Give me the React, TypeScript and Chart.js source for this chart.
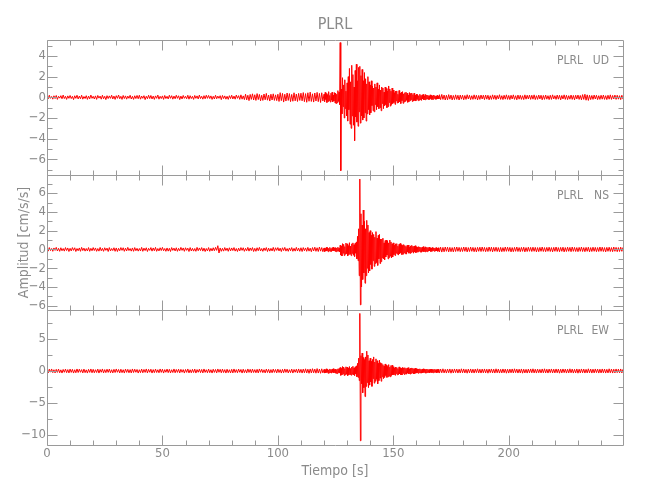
import React, { useEffect, useRef } from 'react';
import { Chart, registerables } from 'chart.js';

Chart.register(...registerables);

const TITLE = 'PLRL';
const STATION = 'PLRL';
const Y_TITLE = 'Amplitud [cm/s/s]';
const X_TITLE = 'Tiempo [s]';
const COMPONENTS = ['UD', 'NS', 'EW'];
const PANEL_IDS = ['yUD', 'yNS', 'yEW'];

// Sampling of the three pieces of each trace (start time, interval, seconds)
const PRE_START = 0;
const PRE_DT = 0.5;
const EVENT_START = 120;
const EVENT_DT = 0.25;
const POST_START = 170;
const POST_DT = 0.5;

const X_MIN = 0;
const X_MAX = 249.5;
const X_TICKS = [0, 50, 100, 150, 200];
const X_MINOR = 10;
const Y_MIN = [-7.52, -6.45, -11.56];
const Y_MAX = [5.55, 7.93, 9.53];
const Y_TICKS_UD = [-6, -4, -2, 0, 2, 4];
const Y_TICKS_NS = [-6, -4, -2, 0, 2, 4, 6];
const Y_TICKS_EW = [-10, -5, 0, 5];
const Y_MAJOR = [2, 2, 5];
const Y_MINOR = [1, 1, 2.5];

// ---------- UD ----------
const UD_PRE = [
  0.12,-0.15,0.2,-0.1,0.08,-0.18,0.15,-0.12,0.18,-0.2,0.1,-0.08,0.16,-0.14,0.22,-0.12,0.1,-0.2,0.14,-0.1,
  0.18,-0.12,0.1,-0.22,0.15,-0.1,0.2,-0.16,0.12,-0.14,0.2,-0.18,0.08,-0.12,0.16,-0.2,0.12,-0.15,0.22,-0.1,
  0.1,-0.16,0.14,-0.2,0.18,-0.08,0.12,-0.18,0.2,-0.14,0.1,-0.22,0.16,-0.12,0.14,-0.1,0.2,-0.16,0.12,-0.2,
  0.16,-0.1,0.22,-0.14,0.1,-0.2,0.18,-0.12,0.14,-0.18,0.12,-0.1,0.2,-0.16,0.1,-0.2,0.15,-0.12,0.18,-0.14,
  0.2,-0.18,0.12,-0.1,0.16,-0.22,0.1,-0.14,0.2,-0.12,0.18,-0.16,0.12,-0.2,0.14,-0.1,0.22,-0.18,0.1,-0.12,
  0.14,-0.2,0.18,-0.12,0.1,-0.16,0.2,-0.1,0.16,-0.18,0.12,-0.14,0.2,-0.1,0.15,-0.22,0.12,-0.16,0.18,-0.1,
  0.1,-0.14,0.2,-0.18,0.16,-0.12,0.1,-0.2,0.18,-0.1,0.14,-0.16,0.22,-0.12,0.1,-0.18,0.16,-0.14,0.2,-0.1,
  0.18,-0.12,0.14,-0.2,0.1,-0.16,0.2,-0.14,0.12,-0.1,0.16,-0.22,0.18,-0.12,0.14,-0.18,0.1,-0.2,0.16,-0.12,
  0.2,-0.16,0.12,-0.18,0.22,-0.1,0.16,-0.2,0.24,-0.18,0.14,-0.22,0.3,-0.25,0.2,-0.32,0.28,-0.2,0.34,-0.26,
  0.25,-0.3,0.36,-0.22,0.28,-0.34,0.2,-0.3,0.32,-0.24,0.38,-0.28,0.22,-0.36,0.3,-0.26,0.34,-0.3,0.24,-0.32,
  0.3,-0.4,0.45,-0.32,0.38,-0.46,0.3,-0.36,0.42,-0.3,0.36,-0.42,0.28,-0.38,0.44,-0.34,0.32,-0.4,0.38,-0.3,
  0.4,-0.34,0.46,-0.42,0.36,-0.48,0.44,-0.38,0.5,-0.4,0.34,-0.46,0.42,-0.36,0.48,-0.42,0.38,-0.5,0.44,-0.36,
];
const UD_EVENT = [
  0.3,-0.42,0.48,-0.2,0.36,-0.5,0.25,-0.4,0.55,-0.32,0.18,-0.46,0.4,-0.28,0.5,-0.44,0.22,-0.36,0.46,-0.55,
  0.42,-0.6,0.3,-0.52,0.65,-0.4,0.5,-0.7,5.3,-7.1,0.8,-1.6,1.9,-0.9,1.2,-2.0,1.7,-1.1,0.6,-1.8,
  1.4,-2.3,2.0,-1.2,2.8,-2.6,1.5,-3.0,3.1,-1.8,2.2,-2.7,1.0,-4.2,2.6,-1.9,3.2,-2.4,1.6,-2.8,
  2.9,-1.4,3.0,-2.5,2.1,-1.8,2.7,-2.2,1.6,-2.0,2.4,-1.5,1.8,-2.3,1.3,-1.6,2.0,-1.2,1.5,-1.7,
  1.2,-1.5,1.6,-0.8,1.1,-1.3,0.9,-1.4,1.3,-0.7,1.0,-1.2,1.4,-0.9,0.8,-1.1,1.2,-1.0,0.7,-1.3,
  1.0,-0.6,0.9,-1.1,0.5,-0.8,1.0,-0.7,0.85,-1.0,0.6,-0.9,1.1,-0.5,0.8,-0.85,0.6,-0.7,0.9,-0.6,
  0.7,-0.5,0.45,-0.68,0.6,-0.35,0.62,-0.55,0.3,-0.52,0.66,-0.42,0.4,-0.6,0.5,-0.32,0.55,-0.58,0.34,-0.45,
  0.45,-0.38,0.5,-0.28,0.4,-0.48,0.22,-0.42,0.46,-0.32,0.38,-0.22,0.42,-0.4,0.26,-0.36,0.4,-0.3,0.2,-0.36,
  0.3,-0.2,0.26,-0.32,0.16,-0.28,0.3,-0.22,0.18,-0.3,0.24,-0.16,0.28,-0.26,0.14,-0.24,0.28,-0.18,0.22,-0.16,
  0.2,-0.22,0.14,-0.2,0.24,-0.12,0.18,-0.22,0.14,-0.2,0.22,-0.1,0.16,-0.2,0.12,-0.18,0.2,-0.14,0.1,-0.16,
];
const UD_POST = [
  0.25,-0.22,0.28,-0.2,0.22,-0.26,0.2,-0.24,0.26,-0.18,0.22,-0.25,0.18,-0.22,0.24,-0.2,0.2,-0.26,0.22,-0.18,
  0.2,-0.24,0.18,-0.2,0.25,-0.16,0.2,-0.22,0.16,-0.2,0.24,-0.18,0.2,-0.25,0.18,-0.2,0.22,-0.16,0.2,-0.22,
  0.22,-0.18,0.2,-0.24,0.16,-0.2,0.24,-0.18,0.2,-0.22,0.18,-0.16,0.25,-0.2,0.16,-0.22,0.2,-0.18,0.24,-0.2,
  0.18,-0.22,0.2,-0.16,0.24,-0.2,0.16,-0.24,0.22,-0.18,0.2,-0.2,0.16,-0.22,0.24,-0.18,0.2,-0.16,0.22,-0.2,
  0.2,-0.18,0.24,-0.22,0.16,-0.2,0.22,-0.16,0.2,-0.24,0.18,-0.2,0.22,-0.18,0.16,-0.22,0.2,-0.2,0.24,-0.16,
  0.16,-0.2,0.22,-0.18,0.2,-0.24,0.18,-0.16,0.24,-0.2,0.2,-0.22,0.16,-0.18,0.22,-0.2,0.18,-0.24,0.2,-0.16,
  0.22,-0.2,0.18,-0.24,0.26,-0.2,0.3,-0.28,0.24,-0.3,0.2,-0.22,0.18,-0.2,0.22,-0.16,0.2,-0.22,0.16,-0.2,
  0.2,-0.18,0.22,-0.2,0.16,-0.22,0.2,-0.18,0.24,-0.2,0.18,-0.16,0.22,-0.2,0.2,-0.18,0.16,-0.22,0.2,-0.18,
];

// ---------- NS ----------
const NS_PRE = [
  0.14,-0.18,0.2,-0.12,0.1,-0.2,0.16,-0.1,0.22,-0.16,0.12,-0.2,0.18,-0.14,0.1,-0.18,0.2,-0.12,0.16,-0.22,
  0.12,-0.16,0.2,-0.1,0.18,-0.22,0.1,-0.14,0.16,-0.2,0.22,-0.12,0.14,-0.18,0.1,-0.16,0.2,-0.2,0.12,-0.14,
  0.2,-0.12,0.16,-0.2,0.1,-0.18,0.22,-0.14,0.12,-0.2,0.18,-0.1,0.14,-0.22,0.2,-0.16,0.1,-0.12,0.18,-0.2,
  0.16,-0.22,0.12,-0.14,0.2,-0.1,0.18,-0.2,0.14,-0.16,0.22,-0.12,0.1,-0.18,0.16,-0.2,0.2,-0.14,0.12,-0.18,
  0.1,-0.16,0.22,-0.2,0.14,-0.12,0.18,-0.22,0.12,-0.1,0.2,-0.18,0.16,-0.14,0.22,-0.2,0.1,-0.16,0.18,-0.12,
  0.22,-0.14,0.1,-0.2,0.16,-0.18,0.12,-0.22,0.2,-0.1,0.14,-0.16,0.18,-0.2,0.12,-0.14,0.22,-0.1,0.16,-0.2,
  0.18,-0.1,0.14,-0.22,0.2,-0.16,0.12,-0.18,0.1,-0.2,0.22,-0.14,0.16,-0.12,0.2,-0.18,0.14,-0.22,0.1,-0.16,
  0.2,-0.2,0.12,-0.16,0.18,-0.14,0.22,-0.1,0.4,-0.38,0.16,-0.2,0.12,-0.18,0.2,-0.12,0.14,-0.2,0.18,-0.16,
  0.16,-0.12,0.2,-0.18,0.1,-0.22,0.14,-0.16,0.2,-0.1,0.18,-0.2,0.12,-0.14,0.22,-0.18,0.16,-0.12,0.2,-0.22,
  0.12,-0.2,0.18,-0.14,0.22,-0.16,0.1,-0.2,0.16,-0.12,0.2,-0.22,0.14,-0.18,0.12,-0.16,0.22,-0.2,0.18,-0.1,
  0.2,-0.16,0.14,-0.22,0.18,-0.12,0.22,-0.18,0.1,-0.2,0.16,-0.14,0.2,-0.2,0.12,-0.18,0.22,-0.16,0.14,-0.2,
  0.18,-0.22,0.2,-0.14,0.16,-0.2,0.22,-0.18,0.14,-0.24,0.2,-0.16,0.24,-0.2,0.18,-0.22,0.26,-0.18,0.2,-0.24,
];
const NS_EVENT = [
  0.16,-0.22,0.1,-0.18,0.22,-0.14,0.2,-0.24,0.12,-0.16,0.22,-0.2,0.1,-0.22,0.18,-0.12,0.24,-0.16,0.14,-0.2,
  0.2,-0.24,0.16,-0.18,0.24,-0.2,0.14,-0.26,0.45,-0.6,0.35,-0.7,0.62,-0.4,0.55,-0.65,0.3,-0.5,0.68,-0.45,
  0.6,-0.7,0.4,-0.55,0.72,-0.5,0.35,-0.66,0.6,-0.42,0.7,-0.62,0.5,-0.75,0.66,-0.4,0.8,-1.0,1.4,-1.2,
  2.2,-2.8,7.5,-5.9,3.8,-4.0,2.6,-3.2,4.2,-2.5,3.0,-3.6,2.2,-2.8,3.1,-2.0,2.6,-2.5,1.8,-2.3,
  2.0,-1.6,1.5,-2.1,1.8,-1.2,1.6,-1.8,1.3,-1.5,1.9,-1.4,1.2,-1.7,1.5,-1.0,1.6,-1.5,1.1,-1.3,
  1.1,-0.9,1.2,-1.0,0.7,-1.1,0.95,-0.8,1.0,-0.6,0.9,-1.0,0.7,-0.85,1.0,-0.7,0.8,-0.9,0.6,-0.8,
  0.7,-0.55,0.45,-0.65,0.6,-0.4,0.62,-0.5,0.35,-0.6,0.55,-0.45,0.64,-0.36,0.5,-0.55,0.42,-0.5,0.52,-0.36,
  0.42,-0.46,0.32,-0.5,0.44,-0.28,0.46,-0.4,0.24,-0.42,0.38,-0.34,0.44,-0.24,0.32,-0.4,0.36,-0.28,0.4,-0.34,
  0.28,-0.3,0.22,-0.26,0.3,-0.18,0.26,-0.28,0.2,-0.3,0.24,-0.2,0.3,-0.24,0.18,-0.26,0.28,-0.2,0.22,-0.24,
  0.2,-0.18,0.24,-0.14,0.18,-0.22,0.16,-0.2,0.22,-0.12,0.18,-0.2,0.14,-0.18,0.2,-0.16,0.12,-0.2,0.18,-0.14,
];
const NS_POST = [
  -0.26,0.24,-0.28,0.22,-0.25,0.26,-0.2,0.24,-0.26,0.22,-0.24,0.2,-0.26,0.24,-0.22,0.26,-0.2,0.22,-0.24,0.2,
  -0.22,0.26,-0.2,0.24,-0.26,0.2,-0.22,0.25,-0.2,0.22,-0.24,0.2,-0.26,0.22,-0.2,0.24,-0.22,0.26,-0.2,0.22,
  -0.24,0.2,-0.22,0.26,-0.2,0.24,-0.26,0.22,-0.2,0.24,-0.22,0.2,-0.25,0.22,-0.24,0.2,-0.22,0.26,-0.2,0.24,
  -0.2,0.22,-0.26,0.2,-0.24,0.22,-0.2,0.26,-0.22,0.2,-0.24,0.22,-0.2,0.24,-0.26,0.2,-0.22,0.24,-0.2,0.22,
  -0.22,0.24,-0.2,0.22,-0.26,0.2,-0.24,0.22,-0.2,0.26,-0.22,0.2,-0.24,0.22,-0.2,0.24,-0.22,0.2,-0.26,0.22,
  -0.2,0.26,-0.22,0.2,-0.24,0.22,-0.2,0.24,-0.26,0.2,-0.22,0.24,-0.2,0.22,-0.24,0.26,-0.2,0.22,-0.22,0.2,
  -0.24,0.22,-0.2,0.26,-0.22,0.2,-0.24,0.22,-0.2,0.24,-0.26,0.2,-0.22,0.24,-0.2,0.22,-0.24,0.2,-0.22,0.26,
  -0.2,0.24,-0.22,0.2,-0.26,0.22,-0.2,0.24,-0.22,0.2,-0.24,0.26,-0.2,0.22,-0.24,0.2,-0.22,0.24,-0.2,0.22,
];

// ---------- EW ----------
const EW_PRE = [
  0.22,-0.3,0.28,-0.18,0.32,-0.26,0.2,-0.3,0.26,-0.22,0.3,-0.28,0.18,-0.32,0.24,-0.2,0.3,-0.26,0.22,-0.3,
  0.3,-0.22,0.26,-0.32,0.2,-0.28,0.32,-0.24,0.28,-0.2,0.22,-0.3,0.3,-0.26,0.18,-0.32,0.26,-0.22,0.32,-0.28,
  0.26,-0.28,0.2,-0.24,0.3,-0.32,0.24,-0.2,0.32,-0.3,0.22,-0.26,0.28,-0.22,0.3,-0.28,0.2,-0.3,0.26,-0.24,
  0.32,-0.2,0.24,-0.3,0.28,-0.26,0.2,-0.32,0.3,-0.22,0.26,-0.28,0.22,-0.3,0.32,-0.24,0.28,-0.2,0.24,-0.32,
  0.2,-0.26,0.3,-0.28,0.24,-0.22,0.32,-0.3,0.26,-0.2,0.28,-0.32,0.22,-0.26,0.3,-0.24,0.2,-0.28,0.32,-0.22,
  0.28,-0.32,0.22,-0.2,0.3,-0.26,0.26,-0.3,0.2,-0.24,0.32,-0.28,0.24,-0.22,0.28,-0.3,0.26,-0.2,0.22,-0.32,
  0.24,-0.22,0.32,-0.3,0.2,-0.28,0.26,-0.24,0.3,-0.32,0.22,-0.2,0.28,-0.26,0.24,-0.3,0.32,-0.22,0.2,-0.28,
  0.3,-0.26,0.2,-0.32,0.28,-0.22,0.24,-0.3,0.32,-0.2,0.26,-0.28,0.3,-0.24,0.22,-0.32,0.28,-0.26,0.2,-0.3,
  0.26,-0.3,0.32,-0.24,0.22,-0.28,0.3,-0.2,0.24,-0.32,0.28,-0.26,0.2,-0.3,0.32,-0.22,0.26,-0.28,0.3,-0.24,
  0.22,-0.28,0.26,-0.3,0.32,-0.2,0.28,-0.26,0.2,-0.3,0.3,-0.24,0.26,-0.32,0.22,-0.28,0.3,-0.22,0.24,-0.3,
  0.3,-0.24,0.22,-0.32,0.26,-0.28,0.32,-0.22,0.28,-0.3,0.2,-0.26,0.3,-0.32,0.24,-0.2,0.28,-0.3,0.32,-0.26,
  0.26,-0.32,0.3,-0.28,0.34,-0.3,0.28,-0.36,0.32,-0.3,0.36,-0.28,0.3,-0.34,0.38,-0.32,0.3,-0.36,0.34,-0.3,
];
const EW_EVENT = [
  0.24,-0.32,0.2,-0.26,0.34,-0.22,0.28,-0.36,0.18,-0.3,0.32,-0.24,0.22,-0.34,0.3,-0.2,0.36,-0.28,0.24,-0.32,
  0.3,-0.36,0.24,-0.4,0.34,-0.26,0.38,-0.32,0.55,-0.68,0.4,-0.6,0.7,-0.45,0.62,-0.7,0.38,-0.58,0.66,-0.5,
  0.6,-0.72,0.45,-0.6,0.7,-0.55,0.4,-0.66,0.62,-0.5,0.74,-0.6,0.48,-0.7,0.65,-0.45,0.8,-0.9,1.2,-1.0,
  2.0,-1.5,9.0,-10.9,2.4,-2.0,2.8,-3.4,2.1,-2.6,1.8,-4.0,2.2,-2.4,3.1,-1.8,2.5,-2.6,1.6,-2.2,
  2.0,-1.7,1.5,-2.4,1.8,-1.2,2.2,-1.9,1.4,-1.6,1.9,-1.3,1.6,-2.0,1.2,-1.5,1.7,-1.1,1.3,-1.6,
  1.2,-0.9,1.0,-1.2,0.8,-1.0,1.1,-0.7,0.9,-1.0,0.7,-0.9,1.0,-0.8,0.6,-0.9,0.85,-0.7,0.9,-0.6,
  0.66,-0.58,0.46,-0.66,0.62,-0.4,0.56,-0.6,0.38,-0.56,0.64,-0.46,0.5,-0.58,0.42,-0.62,0.56,-0.36,0.5,-0.55,
  0.52,-0.44,0.4,-0.5,0.48,-0.34,0.52,-0.44,0.32,-0.48,0.44,-0.38,0.48,-0.3,0.42,-0.46,0.34,-0.4,0.45,-0.34,
  0.36,-0.3,0.3,-0.36,0.32,-0.26,0.34,-0.3,0.24,-0.34,0.3,-0.28,0.34,-0.22,0.28,-0.32,0.26,-0.3,0.3,-0.24,
  0.26,-0.24,0.22,-0.28,0.26,-0.2,0.28,-0.26,0.22,-0.28,0.24,-0.2,0.28,-0.22,0.2,-0.26,0.24,-0.22,0.26,-0.2,
];
const EW_POST = [
  -0.32,0.3,-0.28,0.34,-0.3,0.26,-0.32,0.3,-0.28,0.32,-0.34,0.28,-0.3,0.32,-0.26,0.3,-0.32,0.28,-0.3,0.34,
  -0.28,0.32,-0.3,0.26,-0.34,0.3,-0.28,0.32,-0.3,0.28,-0.32,0.3,-0.26,0.34,-0.3,0.28,-0.32,0.3,-0.28,0.32,
  -0.3,0.28,-0.34,0.3,-0.26,0.32,-0.3,0.28,-0.32,0.34,-0.28,0.3,-0.32,0.26,-0.3,0.32,-0.28,0.3,-0.34,0.28,
  -0.32,0.3,-0.28,0.32,-0.3,0.34,-0.26,0.3,-0.32,0.28,-0.3,0.32,-0.34,0.28,-0.3,0.26,-0.32,0.3,-0.28,0.32,
  -0.28,0.34,-0.3,0.28,-0.32,0.3,-0.28,0.26,-0.3,0.32,-0.28,0.34,-0.3,0.28,-0.32,0.3,-0.26,0.32,-0.3,0.28,
  -0.3,0.32,-0.28,0.3,-0.34,0.28,-0.3,0.32,-0.26,0.3,-0.32,0.28,-0.3,0.34,-0.28,0.3,-0.32,0.26,-0.3,0.32,
  -0.34,0.28,-0.3,0.32,-0.28,0.3,-0.32,0.26,-0.3,0.34,-0.28,0.3,-0.32,0.28,-0.3,0.32,-0.26,0.3,-0.32,0.28,
  -0.3,0.32,-0.28,0.3,-0.32,0.26,-0.3,0.34,-0.28,0.3,-0.32,0.28,-0.3,0.32,-0.26,0.3,-0.28,0.32,-0.3,0.28,
];

const TRACES = [
  [UD_PRE, UD_EVENT, UD_POST],
  [NS_PRE, NS_EVENT, NS_POST],
  [EW_PRE, EW_EVENT, EW_POST],
];
const PIECES = [
  { start: PRE_START, dt: PRE_DT },
  { start: EVENT_START, dt: EVENT_DT },
  { start: POST_START, dt: POST_DT },
];
const Y_TICKS = [Y_TICKS_UD, Y_TICKS_NS, Y_TICKS_EW];

const FONT = "'Liberation Sans Narrow', 'DejaVu Sans Condensed', 'Liberation Sans', sans-serif";
const TEXT_COLOR = '#8a8a8a';
const LINE_COLOR = '#9a9a9a';
const TRACE_COLOR = '#ff0000';

const fmt = (v: number) => (v < 0 ? '\u2212' + String(Math.abs(v)) : String(v));

const framePlugin = {
  id: 'panelFrames',
  afterDatasetsDraw(chart: any) {
    const { ctx } = chart;
    const xs = chart.scales.x;
    const left = Math.round(xs.left) + 0.5;
    const right = Math.round(xs.right) + 0.5;
    ctx.save();
    ctx.strokeStyle = LINE_COLOR;
    ctx.lineWidth = 1;
    ctx.beginPath();
    PANEL_IDS.forEach((id, k) => {
      const ys = chart.scales[id];
      const top = Math.round(ys.top) + 0.5;
      const bottom = Math.round(ys.bottom) + 0.5;
      ctx.rect(left, top, right - left, bottom - top);
      for (let v = X_MIN; v <= X_MAX + 1e-9; v += X_MINOR) {
        const px = Math.round(xs.getPixelForValue(v)) + 0.5;
        const len = X_TICKS.includes(v) ? 10 : 5;
        ctx.moveTo(px, top);
        ctx.lineTo(px, top + len);
        ctx.moveTo(px, bottom);
        ctx.lineTo(px, bottom - len);
      }
      const mn = Y_MINOR[k];
      const mj = Y_MAJOR[k];
      for (let v = Math.ceil(ys.min / mn) * mn; v <= ys.max + 1e-9; v += mn) {
        const py = Math.round(ys.getPixelForValue(v)) + 0.5;
        const r = v / mj;
        const len = Math.abs(r - Math.round(r)) < 1e-6 ? 10 : 5;
        ctx.moveTo(left, py);
        ctx.lineTo(left + len, py);
        ctx.moveTo(right, py);
        ctx.lineTo(right - len, py);
      }
    });
    ctx.stroke();
    ctx.fillStyle = TEXT_COLOR;
    ctx.font = `12px ${FONT}`;
    ctx.textBaseline = 'middle';
    ctx.textAlign = 'right';
    PANEL_IDS.forEach((id, k) => {
      const ys = chart.scales[id];
      const ty = ys.top + 21;
      ctx.fillText(STATION, xs.right - 40, ty);
      ctx.fillText(COMPONENTS[k], xs.right - 14, ty);
    });
    ctx.restore();
  },
};

function yScale(k: number, withTitle: boolean) {
  return {
    type: 'linear',
    position: 'left',
    stack: 'panels',
    stackWeight: 1,
    weight: 3 - k,
    offset: false,
    min: Y_MIN[k],
    max: Y_MAX[k],
    grid: { display: false, drawTicks: false },
    border: { display: false },
    afterBuildTicks: (s: any) => {
      s.ticks = Y_TICKS[k].map((v) => ({ value: v }));
    },
    ticks: {
      autoSkip: false,
      padding: 1,
      color: TEXT_COLOR,
      font: { family: FONT, size: 13 },
      callback: (v: any) => fmt(Number(v)),
    },
    title: {
      display: withTitle,
      text: Y_TITLE,
      color: TEXT_COLOR,
      font: { family: FONT, size: 14 },
      padding: { top: 15.5, bottom: 0 },
    },
    afterFit: (s: any) => {
      s.width = 47;
    },
  };
}

export default function App() {
  const canvasRef = useRef<HTMLCanvasElement | null>(null);

  useEffect(() => {
    if (!canvasRef.current) return;
    const datasets = TRACES.map((pieces, k) => {
      const data: { x: number; y: number }[] = [];
      pieces.forEach((arr, p) => {
        arr.forEach((v, i) => data.push({ x: PIECES[p].start + i * PIECES[p].dt, y: v }));
      });
      return {
        label: `${STATION} ${COMPONENTS[k]}`,
        data,
        yAxisID: PANEL_IDS[k],
        xAxisID: 'x',
        borderColor: TRACE_COLOR,
        backgroundColor: TRACE_COLOR,
        borderWidth: 1,
        pointRadius: 0,
        tension: 0,
        fill: false,
      };
    });

    const chart = new Chart(canvasRef.current, {
      type: 'line',
      data: { datasets } as any,
      options: {
        animation: false,
        responsive: false,
        events: [],
        layout: { padding: { left: 0, right: 27, top: 0, bottom: 0 } },
        plugins: {
          legend: { display: false },
          tooltip: { enabled: false },
          title: {
            display: true,
            text: TITLE,
            fullSize: false,
            color: TEXT_COLOR,
            font: { family: FONT, size: 16, weight: 'normal' },
            padding: { top: 15, bottom: 5.8 },
          },
        },
        scales: {
          x: {
            type: 'linear',
            position: 'bottom',
            min: X_MIN,
            max: X_MAX,
            grid: { display: false, drawTicks: false },
            border: { display: false },
            afterBuildTicks: (s: any) => {
              s.ticks = X_TICKS.map((v) => ({ value: v }));
            },
            ticks: {
              autoSkip: false,
              maxRotation: 0,
              padding: 1,
              color: TEXT_COLOR,
              font: { family: FONT, size: 13 },
            },
            title: {
              display: true,
              text: X_TITLE,
              color: TEXT_COLOR,
              font: { family: FONT, size: 14 },
              padding: { top: 0, bottom: 20 },
            },
            afterFit: (s: any) => {
              s.height = 55;
            },
          },
          yUD: yScale(0, false),
          yNS: yScale(1, true),
          yEW: yScale(2, false),
        } as any,
      },
      plugins: [framePlugin],
    });
    return () => chart.destroy();
  }, []);

  return (
    <div style={{ position: 'fixed', left: 0, top: 0, width: 650, height: 500, background: '#ffffff' }}>
      <canvas ref={canvasRef} width={650} height={500} style={{ display: 'block' }} />
    </div>
  );
}
